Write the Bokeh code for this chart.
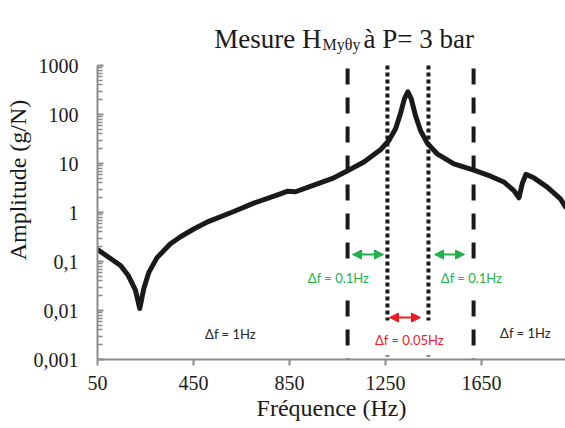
import math
from bokeh.plotting import figure
from bokeh.models import Range1d, FixedTicker, Label, Arrow, NormalHead, BoxAnnotation, Title
from bokeh.embed import file_html
from bokeh.resources import INLINE

# ---- data ----
freq = [50, 104, 146, 179, 208, 226, 243, 264, 298, 354, 396, 451, 514, 618, 701,
        812, 840, 875, 937, 1035, 1090, 1160, 1229, 1264, 1292, 1312, 1329, 1343,
        1357, 1375, 1396, 1424, 1465, 1535, 1618, 1688, 1743, 1785, 1806, 1820,
        1835, 1868, 1924, 1979, 2000]
amp = [0.176, 0.115, 0.083, 0.051, 0.026, 0.011, 0.028, 0.06, 0.12, 0.23, 0.32,
       0.46, 0.66, 1.05, 1.55, 2.4, 2.7, 2.65, 3.4, 5.1, 7.0, 10.7, 19, 29.5, 51,
       103, 210, 290, 210, 95, 47, 26, 15.8, 9.8, 7.3, 5.5, 4.2, 2.8, 2.0, 3.9,
       6.0, 5.1, 3.3, 1.9, 1.3]
x_ticks = [50, 450, 850, 1250, 1650]
y_ticks = [0.001, 0.01, 0.1, 1, 10, 100, 1000]
y_tick_labels = ["0,001", "0,01", "0,1", "1", "10", "100", "1000"]
dashed_freqs = [1092, 1617]
dotted_freqs = [1258, 1429]
title_main = "Mesure H"
title_sub = "Myθy"
title_end = "à P= 3 bar"
x_label = "Fréquence (Hz)"
y_label = "Amplitude (g/N)"
ann_green = "Δf = 0.1Hz"
ann_red = "Δf = 0.05Hz"
ann_black = "Δf = 1Hz"

SERIF = "Liberation Serif"
INK = "#1a1a1a"
AX = "#8c8c8c"
GREEN = "#22b14c"
RED = "#ed1c24"

W, H = 565, 428

# ---- layout helpers (page pixel -> data coordinates) ----
X0, Y_BOT, PX_PER_HZ, PX_PER_DEC = 97, 359, 0.24, 49
def fx(px):
    return 50 + (px - X0) / PX_PER_HZ
def vy(py):
    return 10 ** ((Y_BOT - py) / PX_PER_DEC - 3)

# frame reaches the top of the canvas so the title can live inside it;
# the y axis itself is bounded to 0.001 .. 1000
p = figure(width=W, height=H, title=None,
           x_range=Range1d(50, fx(W)), y_range=Range1d(0.001, vy(0)),
           y_axis_type="log", output_backend="svg", toolbar_location=None,
           min_border_left=X0, min_border_right=0, min_border_top=0,
           min_border_bottom=H - Y_BOT)
p.outline_line_color = None
p.grid.visible = False

xa = p.xaxis[0]
xa.ticker = FixedTicker(ticks=x_ticks)
xa.axis_line_color = AX
xa.axis_line_width = 2
xa.major_tick_line_color = AX
xa.major_tick_line_width = 2
xa.major_tick_in = 0
xa.major_tick_out = 6
xa.minor_tick_line_color = None
xa.major_label_text_font = SERIF
xa.major_label_text_font_size = "20px"
xa.major_label_text_color = INK
xa.major_label_standoff = 10

minor = [m * 10.0 ** k for k in range(-3, 3) for m in range(2, 10)]
ya = p.yaxis[0]
ya.bounds = (0.001, 1000)
ya.ticker = FixedTicker(ticks=y_ticks, minor_ticks=minor)
ya.major_label_overrides = {tk: s for tk, s in zip(y_ticks, y_tick_labels)}
ya.axis_line_color = AX
ya.axis_line_width = 2
ya.major_tick_line_color = AX
ya.major_tick_line_width = 2
ya.major_tick_in = 6
ya.major_tick_out = 0
ya.minor_tick_line_color = AX
ya.minor_tick_line_width = 1.5
ya.minor_tick_in = 5
ya.minor_tick_out = 0
ya.major_label_text_font = SERIF
ya.major_label_text_font_size = "20px"
ya.major_label_text_color = INK
ya.major_label_standoff = 19

# axis titles as side titles (serif, positioned on the axis centres)
p.add_layout(Title(text=y_label, text_font=SERIF, text_font_size="24px",
                   text_font_style="normal", text_color=INK, align="center",
                   offset=-(212 - Y_BOT / 2), standoff=0), "left")
p.add_layout(Title(text=x_label, text_font=SERIF, text_font_size="24px",
                   text_font_style="normal", text_color=INK, align="center",
                   offset=-4, standoff=1), "below")

n = len(dashed_freqs)
p.segment(x0=dashed_freqs, y0=[1000] * n, x1=dashed_freqs, y1=[0.001] * n,
          line_width=4, line_dash="16 13", line_dash_offset=26, line_color=INK)
m = len(dotted_freqs)
p.segment(x0=dotted_freqs, y0=[1000] * m, x1=dotted_freqs, y1=[0.001] * m,
          line_width=4, line_dash="4 3", line_color=INK)
p.line(freq, amp, line_width=5, line_color=INK, line_join="round", line_cap="round")

# white text boxes covering the lines
for l, r, tp, b in [(300, 381, 261, 289), (436, 510, 261, 289), (376, 440, 320, 355)]:
    p.add_layout(BoxAnnotation(left=fx(l), right=fx(r), top=vy(tp), bottom=vy(b),
                               fill_color="white", fill_alpha=1.0, line_color=None,
                               level="annotation"))

def arrow(x1, x2, y, c):
    p.add_layout(Arrow(x_start=fx(x1), y_start=vy(y), x_end=fx(x2), y_end=vy(y),
                       start=NormalHead(size=9, fill_color=c, line_color=c),
                       end=NormalHead(size=9, fill_color=c, line_color=c),
                       line_color=c, line_width=2))
arrow(352, 383, 254, GREEN)
arrow(434, 464, 254, GREEN)
arrow(389, 420, 317, RED)

def lab(text, px, py, color, size="13px", font="Lato", align="center", baseline="middle"):
    p.add_layout(Label(x=fx(px), y=vy(py), text=text, text_color=color,
                       text_font_size=size, text_font=font, text_align=align,
                       text_baseline=baseline))

lab(ann_green, 338, 277, GREEN)
lab(ann_green, 471, 277, GREEN)
lab(ann_red, 409, 339, RED)
lab(ann_black, 230, 333, "#262626")
lab(ann_black, 525, 332, "#262626")

# title with subscript
lab(title_main, 321, 38, INK, "27px", SERIF, "right", "alphabetic")
lab(title_sub, 322, 44, INK, "16px", SERIF, "left", "alphabetic")
lab(title_end, 363, 38, INK, "27px", SERIF, "left", "alphabetic")

open("out.html", "w").write(file_html(p, INLINE))
